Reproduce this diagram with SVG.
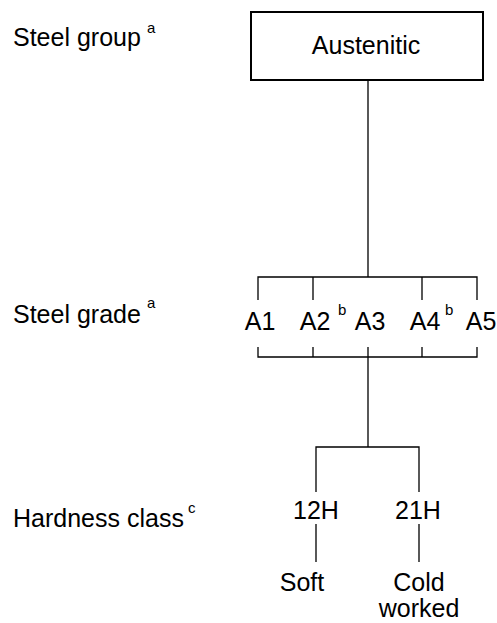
<svg xmlns="http://www.w3.org/2000/svg" width="497" height="623" viewBox="0 0 497 623">
<style>
text{font-family:"Liberation Sans",Arial,sans-serif;font-size:25px;fill:#000}
.sup{font-size:15px}
.c{text-anchor:middle}
.ln{stroke:#000;stroke-width:1.3;fill:none}
.box{fill:#fff;stroke:#000;stroke-width:2}
</style>
<rect width="497" height="623" fill="#fff"/>
<g id="connectors">
<path class="ln" d="M368 81V277M258 300V277H477V300M313 277V300M422 277V300"/>
<path class="ln" d="M258 347V357H477V347M313 347V357M422 347V357M368 347V447"/>
<path class="ln" d="M316 492V447H419V492M316 524V562M419 524V562"/>
</g>
<g id="label-group"><text x="13" y="46">Steel group</text><text class="sup" x="147" y="33">a</text></g>
<g id="label-grade"><text x="13" y="323">Steel grade</text><text class="sup" x="147" y="308">a</text></g>
<g id="label-hardness"><text x="13" y="527">Hardness class</text><text class="sup" x="188" y="513">c</text></g>
<g id="austenitic"><rect class="box" x="251" y="12" width="232" height="68"/><text class="c" x="366" y="54">Austenitic</text></g>
<g id="A1"><text class="c" x="260" y="330">A1</text></g>
<g id="A2"><text class="c" x="315" y="330">A2</text><text class="sup" x="338" y="315">b</text></g>
<g id="A3"><text class="c" x="370" y="330">A3</text></g>
<g id="A4"><text class="c" x="425" y="330">A4</text><text class="sup" x="445" y="315">b</text></g>
<g id="A5"><text class="c" x="481" y="330">A5</text></g>
<g id="h12"><text class="c" x="316" y="519">12H</text></g>
<g id="h21"><text class="c" x="418" y="519">21H</text></g>
<g id="soft"><text class="c" x="302" y="591">Soft</text></g>
<g id="cold"><text class="c" x="419" y="591">Cold</text><text class="c" x="419" y="617">worked</text></g>
</svg>
